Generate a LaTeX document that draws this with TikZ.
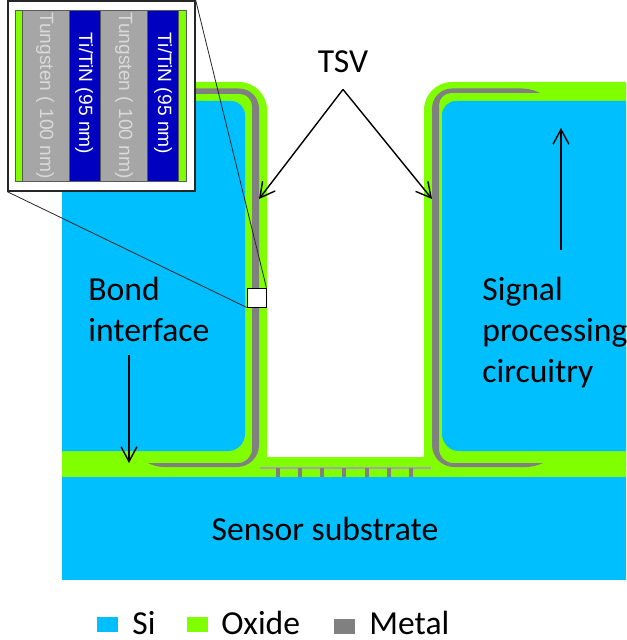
\documentclass[tikz,border=0pt]{standalone}
\usepackage{fontspec}
\setmainfont{Carlito}
\newfontfamily\insetfont{Liberation Sans}
\usetikzlibrary{arrows.meta}
\definecolor{siblue}{HTML}{00BFFF}
\definecolor{oxgreen}{HTML}{80FF00}
\definecolor{metalgray}{HTML}{808080}
\definecolor{tungray}{HTML}{A6A6A6}
\definecolor{tungtext}{HTML}{D9D9D9}
\definecolor{tinblue}{HTML}{0000C0}
\tikzset{
  >={Straight Barb[length=2.6mm,width=2.8mm]},
  ptr/.style={->,line width=0.7pt,black},
  zoomln/.style={line width=0.4pt,black!85},
  lbl/.style={font=\fontsize{16.8}{20}\selectfont,inner sep=0pt,align=left},
  keybox/.style={minimum width=10.5pt,minimum height=7.5pt,inner sep=0pt},
  strip/.style={draw=black!65,line width=0.4pt},
  striplbl/.style={font=\insetfont\fontsize{9.6}{11}\selectfont,rotate=-90,inner sep=0pt},
  ties/.style={metalgray,line width=2pt},
}
\begin{document}
\begin{tikzpicture}[x=0.5pt,y=-0.5pt]
  \useasboundingbox (0,0) rectangle (626,640);
  % --- oxide around the two blocks ---
  \fill[oxgreen] (62,477) -- (62,82) [rounded corners=14pt] -- (267,82) [sharp corners] -- (267,477) -- cycle;
  \fill[oxgreen] (626,477) -- (626,82) [rounded corners=14pt] -- (424,82) [sharp corners] -- (424,477) -- cycle;
  \fill[oxgreen] (62,457) rectangle (626,477);
  % --- silicon ---
  \fill[siblue] (62,451) -- (62,101) [rounded corners=7pt] -- (245,101) [rounded corners=8.5pt] -- (245,451) [sharp corners] -- cycle;
  \fill[siblue] (626,451) -- (626,101) [rounded corners=7pt] -- (442,101) [rounded corners=8.5pt] -- (442,451) [sharp corners] -- cycle;
  \fill[siblue] (62,477) rectangle (626,580);
  % --- metal liner, tapered at its free ends ---
  \fill[metalgray] (190,88.5) [rounded corners=10pt] -- (259,88.5) [rounded corners=11pt] -- (259,467)
    [sharp corners] -- (165,467) .. controls (157,467) and (152,465) .. (148,463)
    [rounded corners=7pt] -- (252,463) [rounded corners=6pt] -- (252,94) [sharp corners] -- (190,94) -- cycle;
  \fill[metalgray] (540,93) .. controls (534,90) and (530,89) .. (522,88.5) [rounded corners=10pt] -- (432,88.5)
    [rounded corners=11pt] -- (432,467) [sharp corners] -- (525,467) .. controls (533,467) and (538,465) .. (543,463)
    [rounded corners=7pt] -- (439,463) [rounded corners=6pt] -- (439,93) [sharp corners] -- cycle;
  % bottom pads and ties
  \draw[metalgray!70,line width=1pt] (260,467.5) -- (431,467.5);
  \foreach \tx in {278,300,322,344,367,389,411}
    \draw[ties] (\tx,468) -- (\tx,477);
  % --- zoom window ---
  \node[draw=black!85,fill=white,line width=0.7pt,minimum width=93.5pt,minimum height=95pt,inner sep=0pt] (inset) at (101.5,96) {};
  \node[draw=black,fill=white,line width=0.4pt,minimum size=9.5pt,inner sep=0pt] (zoomsq) at (256.5,297.5) {};
  \draw[zoomln] (inset.north east) -- (zoomsq.north east);
  \draw[zoomln] (inset.south west) -- (zoomsq.south west);
  \draw[strip,fill=oxgreen] (15,10) rectangle (22,181);
  \draw[strip,fill=tungray] (22,10) rectangle (69,181);
  \draw[strip,fill=tinblue] (69,10) rectangle (100,181);
  \draw[strip,fill=tungray] (100,10) rectangle (147,181);
  \draw[strip,fill=tinblue] (147,10) rectangle (178,181);
  \draw[strip,fill=oxgreen] (178,10) rectangle (186,181);
  \node[striplbl,text=tungtext] (tung1) at (45,95.5) {Tungsten ( 100 nm)};
  \node[striplbl,text=tungtext] (tung2) at (124,95.5) {Tungsten ( 100 nm)};
  \node[striplbl,text=white] (tin1) at (84,93.5) {Ti/TiN (95 nm)};
  \node[striplbl,text=white] (tin2) at (163,93.5) {Ti/TiN (95 nm)};
  % --- labels and arrows ---
  \node[lbl,inner sep=8pt] (tsv) at (343,62) {TSV};
  \coordinate (tsvleft) at (259,199);
  \coordinate (tsvright) at (432,199);
  \draw[ptr] (tsv.south) -- (tsvleft);
  \draw[ptr] (tsv.south) -- (tsvright);
  \node[lbl,anchor=north west] (bond) at (88,277) {Bond\\[0.5pt]interface};
  \coordinate (bondfoot) at (129,355);
  \coordinate (bondtip) at (129,463);
  \draw[ptr] (bondfoot) -- (bondtip);
  \node[lbl,anchor=north west] (signal) at (482,277) {Signal\\[0.5pt]processing\\[0.5pt]circuitry};
  \coordinate (sigfoot) at (561,250);
  \coordinate (sigtip) at (561,128);
  \draw[ptr] (sigfoot) -- (sigtip);
  \node[lbl] (sensor) at (325,529) {Sensor substrate};
  % --- legend ---
  \node[keybox,fill=siblue] (keysi) at (107.5,624.5) {};
  \node[keybox,fill=oxgreen] (keyox) at (197,624.5) {};
  \node[keybox,fill=metalgray] (keymet) at (344,626) {};
  \node[lbl,anchor=base west] (txtsi) at (132,634) {Si};
  \node[lbl,anchor=base west] (txtox) at (221,634) {Oxide};
  \node[lbl,anchor=base west] (txtmet) at (369,634) {Metal};
\end{tikzpicture}
\end{document}
